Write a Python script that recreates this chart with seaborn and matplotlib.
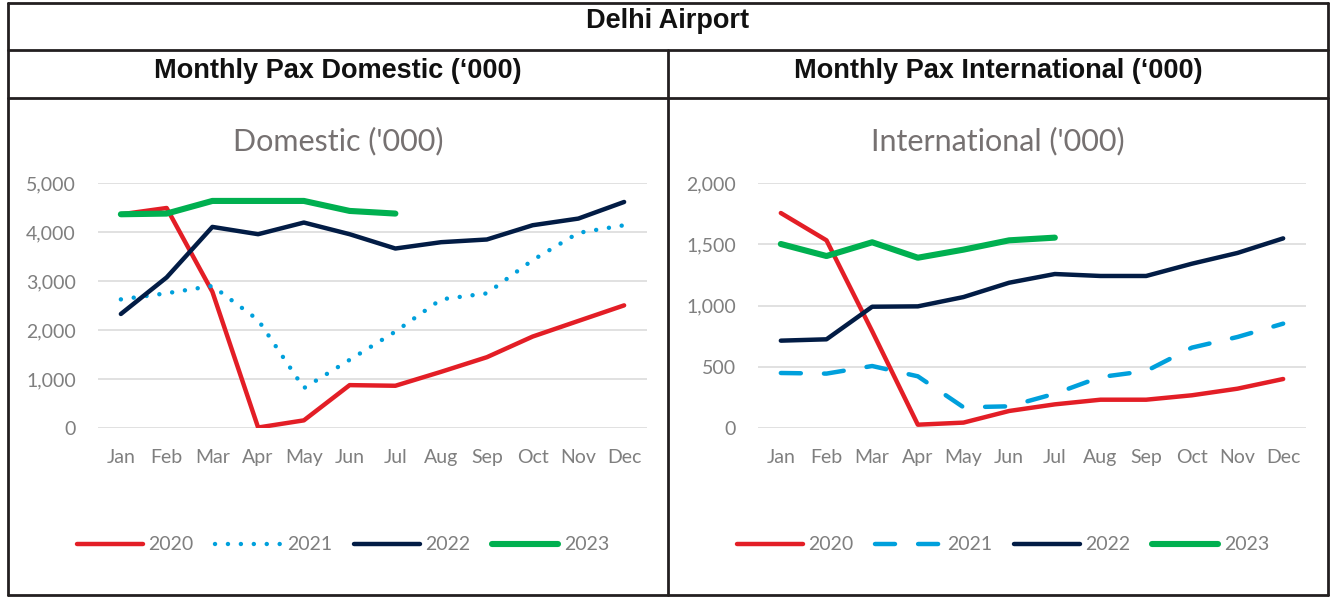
import numpy as np
import pandas as pd
import matplotlib
matplotlib.use("Agg")
import matplotlib.pyplot as plt
import seaborn as sns
from matplotlib.lines import Line2D
from matplotlib.ticker import StrMethodFormatter

months = ["Jan", "Feb", "Mar", "Apr", "May", "Jun", "Jul", "Aug", "Sep", "Oct", "Nov", "Dec"]
years = ["2020", "2021", "2022", "2023"]

# domestic pax ('000)
dom_2020 = [4360, 4490, 2780, 10, 156, 875, 862, 1147, 1445, 1866, 2185, 2503]
dom_2021 = [2625, 2750, 2900, 2205, 814, 1391, 1967, 2625, 2748, 3426, 3982, 4138]
dom_2022 = [2327, 3073, 4104, 3955, 4193, 3955, 3663, 3792, 3847, 4138, 4274, 4613]
dom_2023 = [4362, 4376, 4634, 4634, 4634, 4430, 4376]

# international pax ('000)
int_2020 = [1755, 1532, 790, 27, 44, 139, 193, 231, 231, 267, 321, 400]
int_2021 = [449, 444, 506, 422, 169, 177, 280, 416, 465, 656, 743, 852]
int_2022 = [713, 724, 990, 993, 1069, 1186, 1257, 1241, 1241, 1341, 1429, 1548]
int_2023 = [1502, 1404, 1516, 1390, 1456, 1532, 1554]

colors = {"2020": "#e31e26", "2021": "#00a0dc", "2022": "#021c45", "2023": "#00b050"}
widths = {"2020": 3.2, "2021": 3.2, "2022": 3.2, "2023": 4.4}

sns.set_style("white")
plt.rcParams["font.family"] = ["Lato", "DejaVu Sans"]

W, H = 1332, 597
fig = plt.figure(figsize=(W / 100, H / 100), dpi=100)


def fx(px):
    return px / W


def fy(py):
    return 1 - py / H


def draw_panel(rect, series, style21, ymax, step, title, title_x):
    ax = fig.add_axes(rect)
    for yr, vals in zip(years, series):
        ls = style21 if yr == "2021" else "-"
        sns.lineplot(x=months[:len(vals)], y=vals, ax=ax, sort=False, color=colors[yr],
                     lw=widths[yr], linestyle=ls, label=yr,
                     dash_capstyle="round", solid_capstyle="round")
    ax.set_ylim(0, ymax)
    ax.set_xlim(-0.5, 11.5)
    ax.set_yticks(np.arange(0, ymax + 1, step))
    ax.yaxis.set_major_formatter(StrMethodFormatter("{x:,.0f}"))
    ax.grid(axis="y", color="#d9d9d9", lw=1.1)
    ax.set_axisbelow(True)
    for s in ax.spines.values():
        s.set_visible(False)
    ax.tick_params(axis="both", length=0, labelsize=14, labelcolor="#7f7f7f")
    ax.tick_params(axis="x", pad=15)
    ax.tick_params(axis="y", pad=16)
    ax.set_xlabel("")
    ax.set_ylabel("")
    ax.legend(loc="center", bbox_to_anchor=(fx(title_x + 5), fy(545)), bbox_transform=fig.transFigure,
              ncol=4, frameon=False, fontsize=14, handlelength=3.4, handletextpad=0.3,
              columnspacing=1.1, labelcolor="#7f7f7f")
    fig.text(fx(title_x), fy(141), title, ha="center", va="center", fontsize=22, color="#767171")
    return ax


ax1 = draw_panel([fx(98), fy(428), fx(549), (428 - 183) / H],
                 [dom_2020, dom_2021, dom_2022, dom_2023], (0, (0.01, 2.9)),
                 5000, 1000, "Domestic ('000)", 338)
ax2 = draw_panel([fx(758), fy(428), fx(548), (428 - 183) / H],
                 [int_2020, int_2021, int_2022, int_2023], (0, (4.5, 5.2)),
                 2000, 500, "International ('000)", 998)

# table frame
lk = dict(color="#231f20", lw=2.0, transform=fig.transFigure)
for x0, y0, x1, y1 in [(8, 3, 1328, 3), (8, 595, 1328, 595), (8, 3, 8, 595), (1328, 3, 1328, 595),
                       (8, 50, 1328, 50), (8, 98, 1328, 98), (668, 50, 668, 595)]:
    fig.add_artist(Line2D([fx(x0), fx(x1)], [fy(y0), fy(y1)], **lk))

hk = dict(ha="center", va="center", fontsize=19.5, fontweight="bold", family="Liberation Sans", color="#111111")
fig.text(fx(668), fy(21), "Delhi Airport", **hk)
fig.text(fx(338), fy(71), "Monthly Pax Domestic (\u2018000)", **hk)
fig.text(fx(998), fy(71), "Monthly Pax International (\u2018000)", **hk)

fig.savefig("out.png", dpi=100)
